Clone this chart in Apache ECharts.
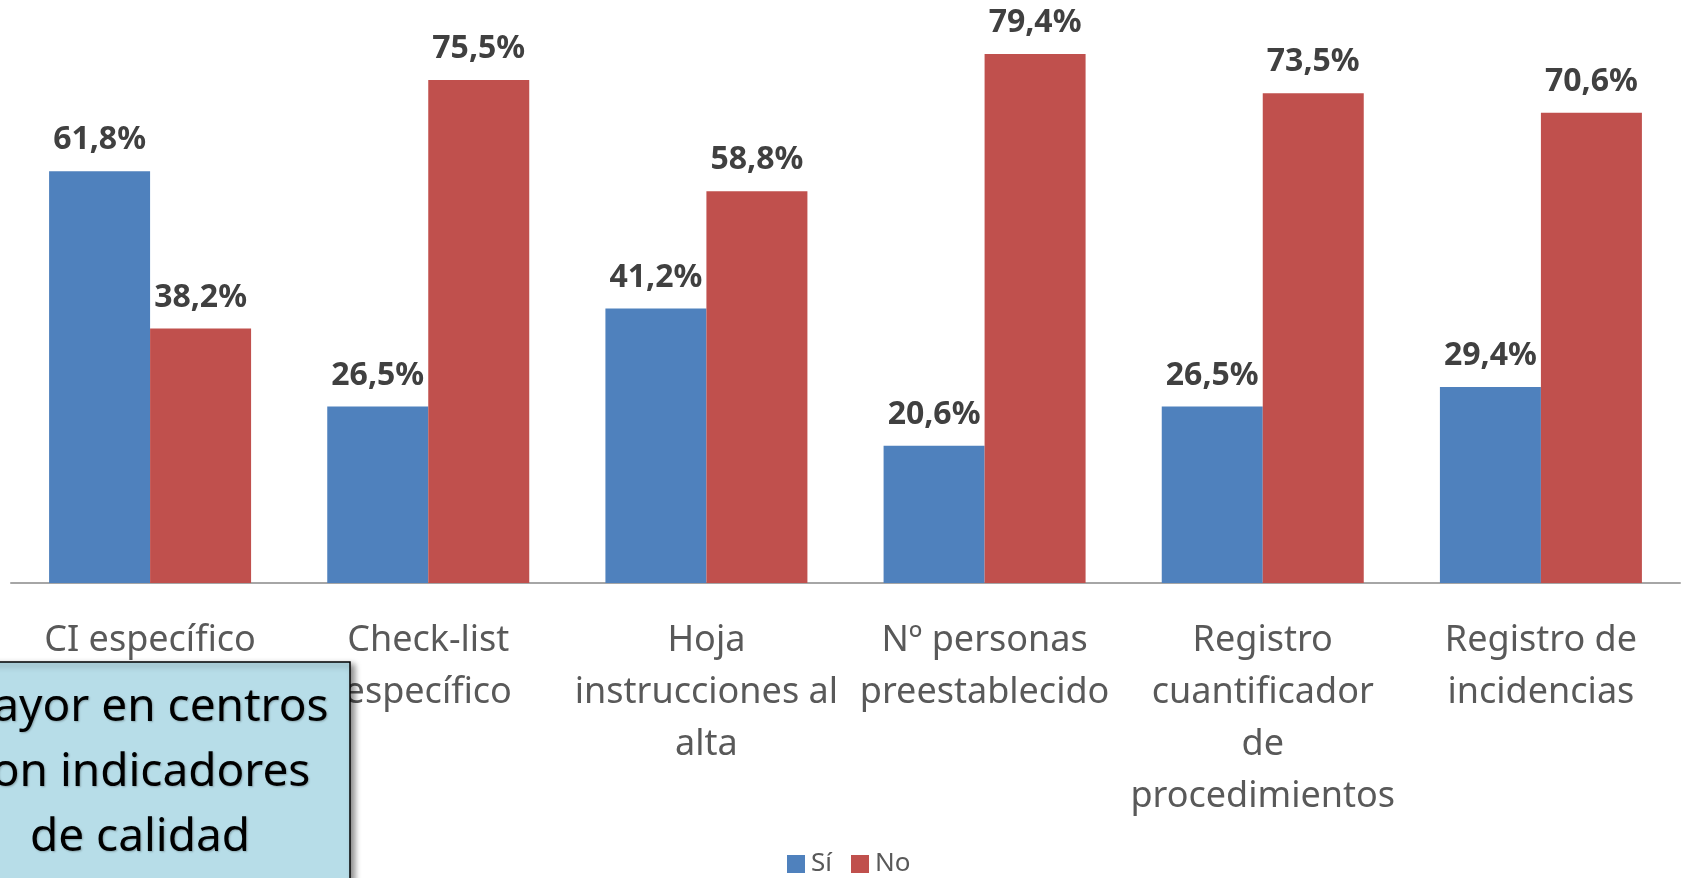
<!DOCTYPE html>
<html>
<head>
<meta charset="utf-8">
<title>Sí / No</title>
<script src="https://cdn.jsdelivr.net/npm/echarts@6/dist/echarts.min.js"></script>
<style>
	html, body { margin: 0; padding: 0; background: #fff; }
	#chart { width: 1683px; height: 878px; }
</style>
</head>
<body>
<div id="chart"></div>
<script>
	// categorias (saltos de linea como en el original)
	var categories = [
		'CI específico',
		'Check-list\nespecífico',
		'Hoja\ninstrucciones al\nalta',
		'Nº personas\npreestablecido',
		'Registro\ncuantificador\nde\nprocedimientos',
		'Registro de\nincidencias'
	];
	var siValues = [61.8, 26.5, 41.2, 20.6, 26.5, 29.4];
	var noValues = [38.2, 75.5, 58.8, 79.4, 73.5, 70.6];
	var seriesNames = ['Sí', 'No'];
	var noteLines = ['Mayor en centros', 'con indicadores', 'de calidad'];

	var chart = echarts.init(document.getElementById('chart'));

	function pct(p) {
		return p.value.toFixed(1).replace('.', ',') + '%';
	}

	var barLabel = {
		show: true,
		position: 'top',
		distance: 15,
		formatter: pct,
		color: '#404040',
		fontFamily: 'Noto Sans',
		fontWeight: 'bold',
		fontSize: 32
	};

	var option = {
		animation: false,
		grid: {
			left: 11,
			right: 3,
			top: 50,
			bottom: 295
		},
		legend: {
			left: 787,
			top: 851,
			padding: 0,
			itemWidth: 18,
			itemHeight: 18,
			itemGap: 19,
			icon: 'rect',
			textStyle: {
				color: '#595959',
				fontFamily: 'Noto Sans',
				fontSize: 26,
				padding: [0, 0, 0, 1]
			},
			data: seriesNames
		},
		xAxis: {
			type: 'category',
			data: categories,
			axisLine: {
				lineStyle: { color: '#a6a6a6', width: 2 }
			},
			axisTick: { show: false },
			axisLabel: {
				interval: 0,
				margin: 32,
				color: '#595959',
				fontFamily: 'Noto Sans',
				fontSize: 36,
				lineHeight: 52
			}
		},
		yAxis: {
			type: 'value',
			min: 0,
			max: 80,
			show: false,
			splitLine: { show: false }
		},
		series: [{
			name: seriesNames[0],
			type: 'bar',
			data: siValues,
			barWidth: 101,
			barGap: '0%',
			itemStyle: { color: '#4f81bd' },
			label: barLabel
		}, {
			name: seriesNames[1],
			type: 'bar',
			data: noValues,
			barWidth: 101,
			barGap: '0%',
			itemStyle: { color: '#c0504d' },
			label: barLabel
		}],
		// cuadro de texto superpuesto (abajo a la izquierda)
		graphic: [{
			type: 'rect',
			z: 100,
			shape: { x: -250, y: 662, width: 600, height: 320 },
			style: {
				fill: '#b7dde8',
				stroke: '#000',
				lineWidth: 1.5,
				shadowBlur: 6,
				shadowOffsetX: 4,
				shadowOffsetY: 3,
				shadowColor: 'rgba(0,0,0,0.45)'
			}
		}, {
			type: 'text',
			z: 101,
			x: 140,
			y: 675,
			style: {
				text: noteLines.join('\n'),
				fill: '#000',
				font: '46px "Noto Sans"',
				align: 'center',
				lineHeight: 65,
				textShadowBlur: 2,
				textShadowOffsetX: 1,
				textShadowOffsetY: 1,
				textShadowColor: 'rgba(0,0,0,0.25)'
			}
		}]
	};

	chart.setOption(option);
</script>
</body>
</html>
